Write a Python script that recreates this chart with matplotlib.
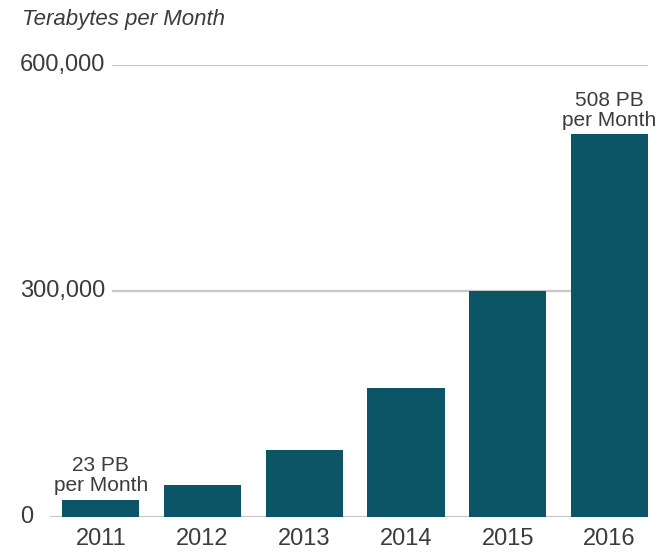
import matplotlib.pyplot as plt
from matplotlib.transforms import blended_transform_factory

plt.rcParams['font.family'] = ['Liberation Sans', 'DejaVu Sans']

# Global mobile data traffic, terabytes per month
years = ['2011', '2012', '2013', '2014', '2015', '2016']
traffic_tb = [23000, 42000, 89000, 171000, 300000, 508000]
y_ticks = [0, 300000, 600000]
y_tick_labels = ['0', '300,000', '600,000']
notes = {0: '23 PB\nper Month', 5: '508 PB\nper Month'}

bar_color = '#0b5567'
text_color = '#3c3c3c'
grid_color = '#c8c8c8'

fig = plt.figure(figsize=(6.65, 5.53), dpi=100)
ax = fig.add_axes([50 / 665, 36 / 553, 598 / 665, 452 / 553])

x = range(len(years))
ax.bar(x, traffic_tb, width=0.76, color=bar_color, zorder=3)

ax.set_xlim(-0.5, 5.38)
ax.set_ylim(0, 600000)

# gridlines: the zero line runs full width, others start after the label
for v in y_ticks:
    start = 0 if v == 0 else 0.105
    ax.axhline(v, xmin=start, xmax=1, color=grid_color, lw=1.6, zorder=1)

trans = blended_transform_factory(ax.transAxes, ax.transData)
for v, lab in zip(y_ticks, y_tick_labels):
    ax.text(-0.05, v, lab, transform=trans, ha='left', va='center',
            fontsize=17, color=text_color)

ax.set_xticks(list(x))
ax.set_xticklabels(years, fontsize=17, color=text_color)
ax.tick_params(axis='x', length=0, pad=8)
ax.set_yticks([])
for s in ax.spines.values():
    s.set_visible(False)

for i, txt in notes.items():
    ax.text(i, traffic_tb[i] + 6000, txt, ha='center', va='bottom',
            fontsize=15, color=text_color, linespacing=1.05)

fig.text(22 / 665, 1 - 20 / 553, 'Terabytes per Month', ha='left', va='center',
         fontsize=16, style='italic', color=text_color)

fig.savefig('out.png', dpi=100, facecolor='white')
